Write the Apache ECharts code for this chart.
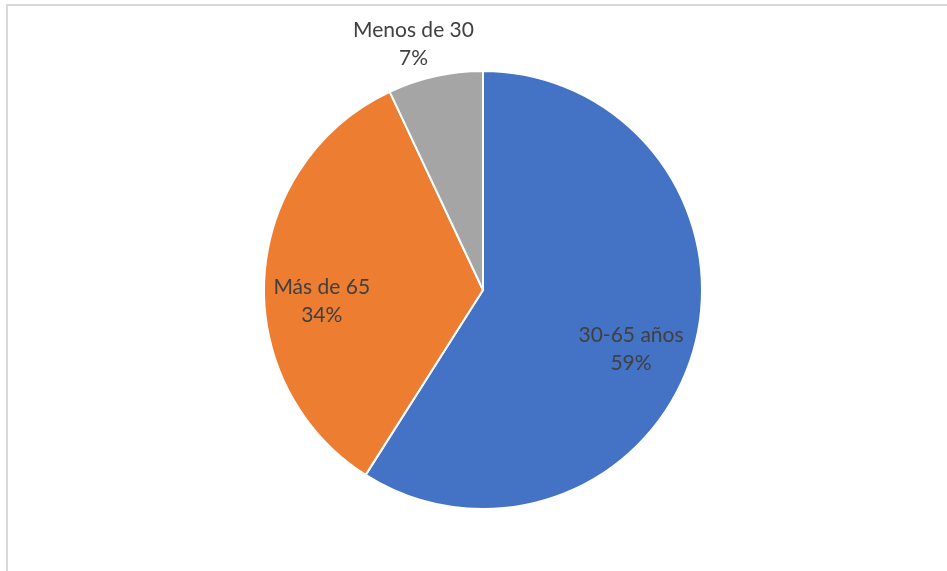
<!DOCTYPE html>
<html>
<head>
<meta charset="utf-8">
<script src="https://cdn.jsdelivr.net/npm/echarts@6/dist/echarts.min.js"></script>
<style>
  html, body { margin: 0; padding: 0; background: #fff; }
  #main { width: 947px; height: 571px; }
</style>
</head>
<body>
<div id="main"></div>
<script>
// grupos de edad y porcentajes
var categorias = ['30-65 años', 'Más de 65', 'Menos de 30'];
var valores = [59, 34, 7];
var colores = ['#4472C4', '#ED7D31', '#A5A5A5'];

// desplazamiento de cada etiqueta (estilo, no datos)
var labelShift = [[40, 28], [-49, 18], [-15, -24]];

var myChart = echarts.init(document.getElementById('main'));

var pieData = categorias.map(function (c, i) {
  return {
    name: c,
    value: valores[i],
    itemStyle: { color: colores[i] },
    label: { position: i === 2 ? 'outside' : 'inside' }
  };
});

myChart.setOption({
  animation: false,
  // marco del gráfico
  graphic: [{
    type: 'rect',
    shape: { x: 7, y: 5, width: 960, height: 600 },
    style: { fill: 'none', stroke: '#d9d9d9', lineWidth: 2 }
  }],
  series: [{
    type: 'pie',
    center: [483, 290],
    radius: [0, 219],
    startAngle: 90,
    clockwise: true,
    data: pieData,
    itemStyle: { borderColor: '#fff', borderWidth: 2 },
    label: {
      show: true,
      formatter: '{b}\n{d}%',
      fontFamily: 'Lato',
      fontSize: 21,
      lineHeight: 28,
      color: '#404040',
      align: 'center'
    },
    labelLine: { show: false, length: 8, length2: 0 },
    labelLayout: function (params) {
      var s = labelShift[params.dataIndex];
      return { dx: s[0], dy: s[1], align: 'center' };
    }
  }]
});
</script>
</body>
</html>
